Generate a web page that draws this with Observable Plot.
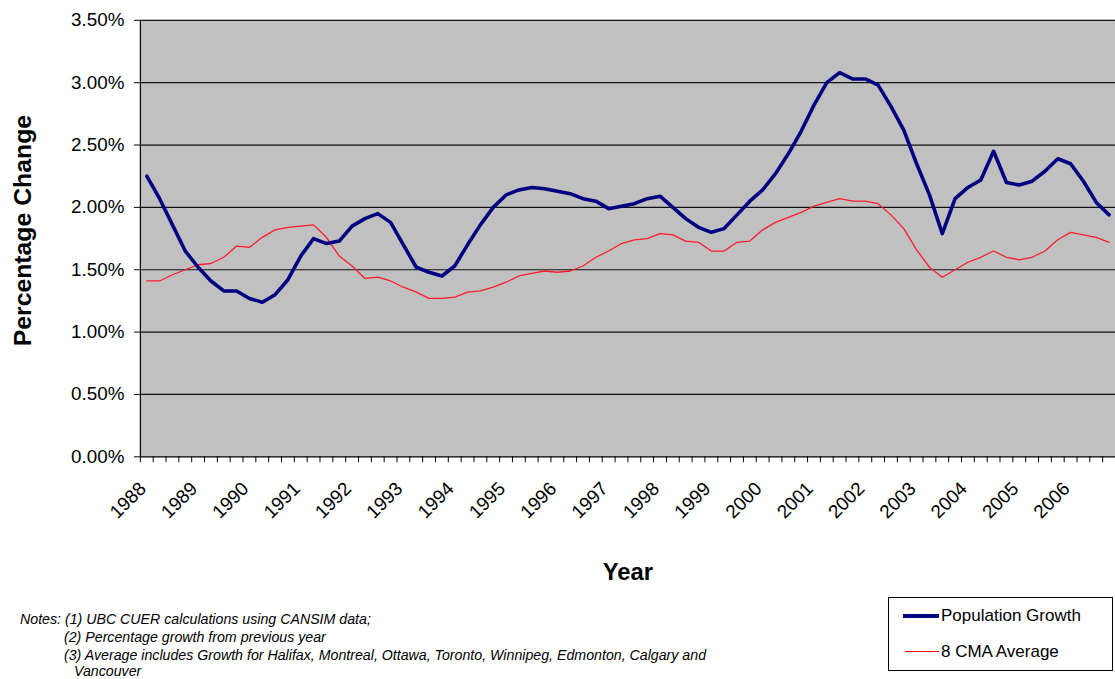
<!DOCTYPE html>
<html><head><meta charset="utf-8">
<script src="https://cdn.jsdelivr.net/npm/d3@7"></script>
<script src="https://cdn.jsdelivr.net/npm/@observablehq/plot@0.6"></script>
<style>
body{margin:0;background:#fff;font-family:"Liberation Sans",Arial,sans-serif;}
#wrap{position:relative;width:1115px;height:679px;overflow:hidden;background:#fff;}
#chart{position:absolute;left:0;top:0;}
.note{position:absolute;font-style:italic;font-size:14.2px;font-family:"Liberation Sans Narrow","Arial Narrow","Liberation Sans",sans-serif;color:#000;white-space:nowrap;line-height:16px;}
#legend{position:absolute;left:888px;top:597px;width:225px;height:74px;border:1px solid #000;box-sizing:border-box;background:#fff;}
.lg{position:absolute;left:52px;font-size:17px;line-height:20px;white-space:nowrap;}
.sw{position:absolute;}
</style></head><body>
<div id="wrap">
<div id="chart"></div>
<div class="note" style="left:20px;top:611px">Notes: (1) UBC CUER calculations using CANSIM data;</div>
<div class="note" style="left:64px;top:629px">(2) Percentage growth from previous year</div>
<div class="note" style="left:64px;top:647px">(3) Average includes Growth for Halifax, Montreal, Ottawa, Toronto, Winnipeg, Edmonton, Calgary and</div>
<div class="note" style="left:74px;top:663px">Vancouver</div>
<div id="legend">
  <div class="sw" style="left:14px;top:16px;width:36px;height:4px;background:#000080"></div>
  <div class="lg" style="top:8px">Population Growth</div>
  <div class="sw" style="left:16px;top:53px;width:34px;height:1.4px;background:#ff0000"></div>
  <div class="lg" style="top:44px">8 CMA Average</div>
</div>
</div>
<script>
// Year tick labels (one label every four quarters)
const years = [1988,1989,1990,1991,1992,1993,1994,1995,1996,1997,1998,1999,2000,2001,2002,2003,2004,2005,2006];
// Quarterly population growth (%), 1988 Q1 .. 2006 Q4
const growth = [2.25,2.07,1.86,1.65,1.52,1.41,1.33,1.33,1.27,1.24,
  1.30,1.42,1.61,1.75,1.71,1.73,1.85,1.91,1.95,1.88,
  1.70,1.52,1.48,1.45,1.53,1.70,1.86,2.00,2.10,2.14,
  2.16,2.15,2.13,2.11,2.07,2.05,1.99,2.01,2.03,2.07,
  2.09,2.00,1.91,1.84,1.80,1.83,1.94,2.05,2.14,2.27,
  2.43,2.61,2.82,3.00,3.08,3.03,3.03,2.98,2.81,2.62,
  2.35,2.10,1.79,2.07,2.16,2.22,2.45,2.20,2.18,2.21,
  2.29,2.39,2.35,2.21,2.04,1.94];
// 8 CMA average growth (%)
const cmaAverage = [1.41,1.41,1.46,1.50,1.54,1.55,1.60,1.69,1.68,1.76,
  1.82,1.84,1.85,1.86,1.76,1.61,1.53,1.43,1.44,1.41,
  1.36,1.32,1.27,1.27,1.28,1.32,1.33,1.36,1.40,1.45,
  1.47,1.49,1.48,1.49,1.53,1.60,1.65,1.71,1.74,1.75,
  1.79,1.78,1.73,1.72,1.65,1.65,1.72,1.73,1.82,1.88,
  1.92,1.96,2.01,2.04,2.07,2.05,2.05,2.03,1.94,1.83,
  1.66,1.52,1.44,1.50,1.56,1.60,1.65,1.60,1.58,1.60,
  1.65,1.74,1.80,1.78,1.76,1.72];
const yTicks = [0,0.5,1.0,1.5,2.0,2.5,3.0,3.5];

const nQ = growth.length;
const growthRows = growth.map((v,i)=>({q:i, v}));
const cmaRows = cmaAverage.map((v,i)=>({q:i, v}));
const boundaries = d3.range(nQ+1).map(i=>i-0.5);
const yearTicks = years.map((y,k)=>k*4);

const chart = Plot.plot({
  width: 1124, height: 600,
  marginLeft: 141, marginRight: 0, marginTop: 20, marginBottom: 140,
  style: {fontFamily: "'Liberation Sans', Arial, sans-serif", background: "transparent", overflow: "visible"},
  x: {type: "linear", domain: [-0.5, nQ-0.5]},
  y: {domain: [0, 3.5]},
  marks: [
    Plot.frame({fill: "#c0c0c0", stroke: null}),
    Plot.ruleY(yTicks.filter(d=>d>0), {stroke: "#111", strokeWidth: 1.2}),
    Plot.line(cmaRows, {x: "q", y: "v", stroke: "#ff1a2e", strokeWidth: 1.3}),
    Plot.line(growthRows, {x: "q", y: "v", stroke: "#000080", strokeWidth: 3.6, strokeLinejoin: "round"}),
    Plot.ruleX([-0.5], {stroke: "#000", strokeWidth: 1.2}),
    Plot.ruleY([0], {stroke: "#000", strokeWidth: 1.2}),
    Plot.axisY({ticks: yTicks, tickFormat: d => d.toFixed(2) + "%", tickSize: 6, tickPadding: 10, fontSize: 19, label: null}),
    Plot.axisX({ticks: boundaries, tickFormat: () => "", tickSize: 6, label: null}),
    Plot.axisX({ticks: yearTicks, tickFormat: i => String(years[i/4]), tickSize: 0, tickPadding: 29, tickRotate: -45, fontSize: 19, dx: -4, label: null}),
    Plot.text(["Percentage Change"], {frameAnchor: "left", rotate: -90, textAnchor: "middle", lineAnchor: "middle", dx: -118, dy: -8, fontSize: 25, fontWeight: "bold"}),
    Plot.text(["Year"], {frameAnchor: "bottom", lineAnchor: "middle", dy: 116, fontSize: 24, fontWeight: "bold"})
  ]
});
document.getElementById("chart").appendChild(chart);
</script>
</body></html>
